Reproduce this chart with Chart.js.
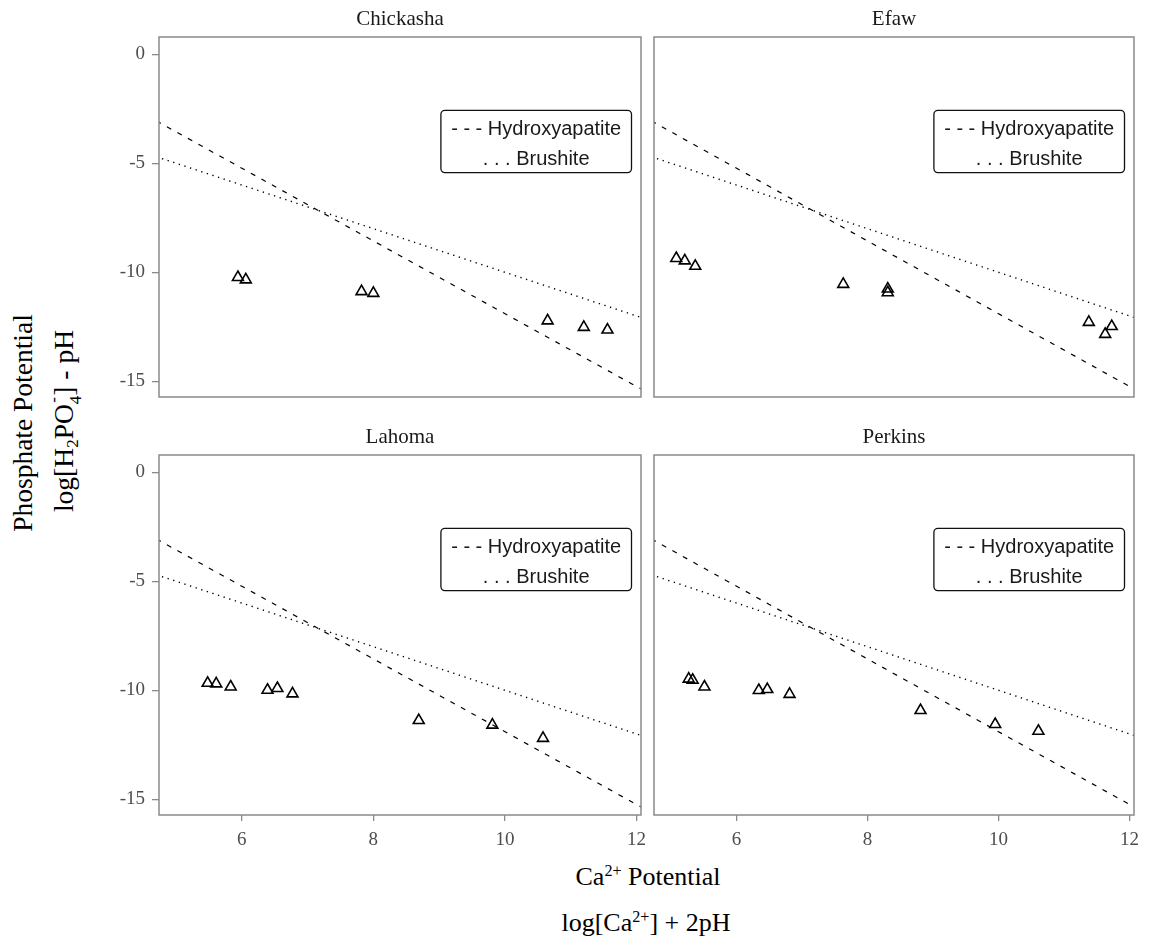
<!DOCTYPE html>
<html>
<head>
<meta charset="utf-8">
<title>Phosphate potential vs Ca potential</title>
<script src="https://cdn.jsdelivr.net/npm/chart.js@4.4.1/dist/chart.umd.min.js"></script>
<style>
  body { margin: 0; background: #fff; width: 1150px; height: 942px; position: relative; overflow: hidden; }
  canvas.panel { position: absolute; }
  .axis-title {
    position: absolute;
    font-family: "Liberation Serif", "Times New Roman", serif;
    font-size: 26px;
    line-height: 1;
    color: #000;
    white-space: nowrap;
    transform: translate(-50%, -50%);
  }
  .axis-title.rot { font-size: 27.5px; transform: translate(-50%, -50%) rotate(-90deg); }
  .axis-title sup { font-size: 0.62em; vertical-align: 0.55em; line-height: 0; }
  .axis-title sub { font-size: 0.62em; vertical-align: -0.3em; line-height: 0; }
  .stack {
    display: inline-flex;
    flex-direction: column;
    align-items: center;
    font-size: 0.62em;
    line-height: 1.3;
    vertical-align: 0.85em;
  }
</style>
</head>
<body>

<div class="axis-title rot" style="left:23px; top:423px;">Phosphate Potential</div>
<div class="axis-title rot" style="left:65px; top:421px;">log[H<sub>2</sub>PO<span class="stack"><span>-</span><span>4</span></span>] - pH</div>
<div class="axis-title" style="left:648px; top:877px;">Ca<sup>2+</sup> Potential</div>
<div class="axis-title" style="left:646px; top:923px;">log[Ca<sup>2+</sup>] + 2pH</div>

<script>
// site names (facet titles)
const sites = ['Chickasha', 'Efaw', 'Lahoma', 'Perkins'];

// measured points, log[Ca2+] + 2pH vs log[H2PO4-] - pH
const chickashaX = [5.94, 6.06, 7.82, 8.00, 10.65, 11.20, 11.56];
const chickashaY = [-10.23, -10.34, -10.88, -10.96, -12.22, -12.52, -12.64];

const efawX = [5.08, 5.21, 5.37, 7.63, 8.31, 8.31, 11.38, 11.73, 11.63];
const efawY = [-9.36, -9.47, -9.72, -10.55, -10.76, -10.93, -12.29, -12.48, -12.84];

const lahomaX = [5.48, 5.61, 5.83, 6.39, 6.54, 6.77, 8.69, 9.81, 10.58];
const lahomaY = [-9.67, -9.70, -9.84, -9.99, -9.91, -10.16, -11.38, -11.59, -12.20];

const perkinsX = [5.27, 5.33, 5.51, 6.34, 6.47, 6.81, 8.81, 9.95, 10.61];
const perkinsY = [-9.48, -9.53, -9.84, -10.00, -9.96, -10.18, -10.92, -11.56, -11.87];

// solubility lines (end points)
const hydroxyX = [4.70, 12.10];
const hydroxyY = [-3.06, -15.40];
const brushiteX = [4.70, 12.10];
const brushiteY = [-4.70, -12.10];

const xTicks = [6, 8, 10, 12];
const yTicks = [0, -5, -10, -15];
const legendLabels = ['- - - Hydroxyapatite', '. . . Brushite'];

const X_MIN = 4.74, X_MAX = 12.07;
const Y_MIN = -15.72, Y_MAX = 0.79;

const siteX = [chickashaX, efawX, lahomaX, perkinsX];
const siteY = [chickashaY, efawY, lahomaY, perkinsY];

// page placement of each plot area
const layoutBoxes = [
    { left: 159, top: 37, w: 482, h: 360, showX: false, showY: true },
    { left: 654, top: 37, w: 480, h: 360, showX: false, showY: false },
    { left: 159, top: 455, w: 482, h: 360, showX: true, showY: true },
    { left: 654, top: 455, w: 480, h: 360, showX: true, showY: false }
];

const PAD_L = 70, PAD_T = 40, PAD_R = 15, PAD_B = 50;
const GREY = '#8a8a8a';

function toPoints(xs, ys) {
    return xs.map((x, i) => ({ x: x, y: ys[i] }));
}

// border, strip title and inside legend
const panelDecor = {
    id: 'panelDecor',
    afterDraw(chart, args, opts) {
        const ctx = chart.ctx;
        const a = chart.chartArea;
        ctx.save();
        ctx.strokeStyle = GREY;
        ctx.lineWidth = 1.5;
        ctx.strokeRect(a.left, a.top, a.right - a.left, a.bottom - a.top);

        ctx.fillStyle = '#1a1a1a';
        ctx.font = '21px "Liberation Serif", serif';
        ctx.textAlign = 'center';
        ctx.textBaseline = 'alphabetic';
        ctx.fillText(opts.title, (a.left + a.right) / 2, a.top - 12);

        // legend box
        const bw = 190.6, bh = 62.3;
        const bx = a.right - 9.5 - bw, by = a.top + 73.3;
        ctx.beginPath();
        ctx.roundRect(bx, by, bw, bh, 4);
        ctx.fillStyle = '#fff';
        ctx.fill();
        ctx.strokeStyle = '#111';
        ctx.lineWidth = 1.3;
        ctx.stroke();

        ctx.fillStyle = '#1a1a1a';
        ctx.font = '20px "Liberation Sans", Arial, sans-serif';
        ctx.textBaseline = 'middle';
        ctx.fillText(legendLabels[0], bx + bw / 2, by + 19.5);
        ctx.fillText(legendLabels[1], bx + bw / 2, by + 49.5);
        ctx.restore();
    }
};

function createPanel(i) {
    const box = layoutBoxes[i];
    const canvas = document.createElement('canvas');
    canvas.className = 'panel';
    canvas.width = box.w + PAD_L + PAD_R;
    canvas.height = box.h + PAD_T + PAD_B;
    canvas.style.left = (box.left - PAD_L) + 'px';
    canvas.style.top = (box.top - PAD_T) + 'px';
    document.body.appendChild(canvas);

    const tickFont = { family: '"Liberation Serif", serif', size: 19 };

    return new Chart(canvas.getContext('2d'), {
        type: 'scatter',
        data: {
            datasets: [
                {
                    label: 'Hydroxyapatite',
                    data: toPoints(hydroxyX, hydroxyY),
                    showLine: true,
                    borderColor: '#000',
                    borderWidth: 1.2,
                    borderDash: [5, 7],
                    pointRadius: 0,
                    fill: false
                },
                {
                    label: 'Brushite',
                    data: toPoints(brushiteX, brushiteY),
                    showLine: true,
                    borderColor: '#000',
                    borderWidth: 1.4,
                    borderDash: [1.3, 4.6],
                    pointRadius: 0,
                    fill: false
                },
                {
                    label: sites[i],
                    data: toPoints(siteX[i], siteY[i]),
                    pointStyle: 'triangle',
                    pointRadius: 6.3,
                    pointBorderWidth: 1.6,
                    pointBorderColor: '#000',
                    pointBackgroundColor: 'rgba(0,0,0,0)'
                }
            ]
        },
        options: {
            responsive: false,
            animation: false,
            devicePixelRatio: 1,
            layout: { autoPadding: false, padding: { top: PAD_T, right: PAD_R, left: 0, bottom: 0 } },
            plugins: {
                legend: { display: false },
                tooltip: { enabled: false },
                panelDecor: { title: sites[i] }
            },
            scales: {
                x: {
                    type: 'linear',
                    min: X_MIN,
                    max: X_MAX,
                    afterBuildTicks: s => { s.ticks = xTicks.map(v => ({ value: v })); },
                    afterFit: s => { s.height = PAD_B; },
                    grid: { display: box.showX, drawOnChartArea: false, tickLength: 6, color: GREY, lineWidth: 1.3 },
                    border: { display: false },
                    ticks: { display: box.showX, font: tickFont, color: '#4d4d4d', padding: 8, maxRotation: 0 }
                },
                y: {
                    type: 'linear',
                    min: Y_MIN,
                    max: Y_MAX,
                    afterBuildTicks: s => { s.ticks = yTicks.map(v => ({ value: v })); },
                    afterFit: s => { s.width = PAD_L; },
                    grid: { display: box.showY, drawOnChartArea: false, tickLength: 7, color: GREY, lineWidth: 1.3 },
                    border: { display: false },
                    ticks: { display: box.showY, font: tickFont, color: '#4d4d4d', padding: 7 }
                }
            }
        },
        plugins: [panelDecor]
    });
}

sites.forEach((s, i) => createPanel(i));
</script>
</body>
</html>
